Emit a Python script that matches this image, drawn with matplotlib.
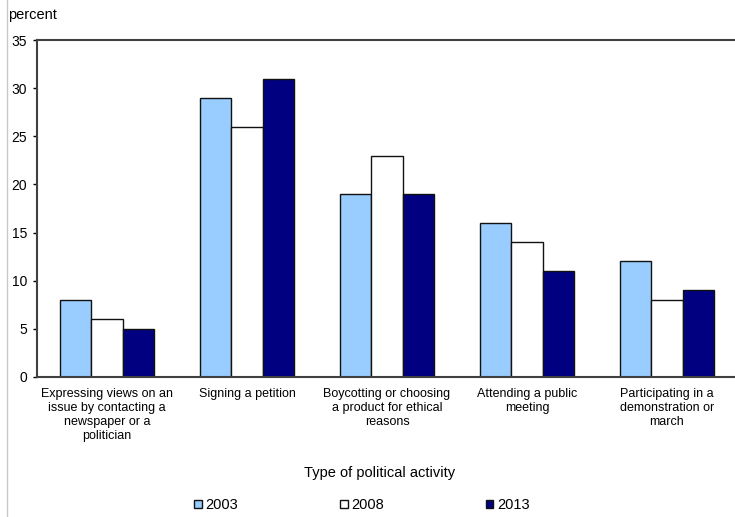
import numpy as np
import matplotlib
matplotlib.use('Agg')
import matplotlib.pyplot as plt
from matplotlib.lines import Line2D

plt.rcParams['font.family'] = ['Liberation Sans', 'DejaVu Sans']

# dados
categorias = ['Expressing views on an\nissue by contacting a\nnewspaper or a\npolitician',
              'Signing a petition',
              'Boycotting or choosing\na product for ethical\nreasons',
              'Attending a public\nmeeting',
              'Participating in a\ndemonstration or\nmarch']
anos = ['2003', '2008', '2013']
v2003 = [8, 29, 19, 16, 12]
v2008 = [6, 26, 23, 14, 8]
v2013 = [5, 31, 19, 11, 9]
cores = ['#99ccff', '#ffffff', '#000080']

fig = plt.figure(figsize=(7.35, 5.17), dpi=100)
ax = fig.add_axes([37/735, 140/517, 700/735, 337/517])

x = np.arange(len(categorias))
w = 0.222
for i, (vals, cor, ano) in enumerate(zip([v2003, v2008, v2013], cores, anos)):
    ax.bar(x + (i - 1)*w, vals, width=w, color=cor, edgecolor='#111111',
           linewidth=1, label=ano, zorder=2)

ax.set_xlim(-0.5, 4.5)
ax.set_ylim(0, 35)
ax.set_yticks(range(0, 36, 5))
ax.set_xticks(x)
ax.set_xticklabels(categorias, fontsize=9, linespacing=1.2)
ax.tick_params(axis='x', length=0, pad=8)
ax.tick_params(axis='y', length=3, width=1, pad=4, labelsize=10, colors='#000000')
for s in ['top', 'bottom', 'left']:
    ax.spines[s].set_color('#404040')
    ax.spines[s].set_linewidth(1.5)
ax.spines['right'].set_visible(False)

fig.text(8/735, 1 - 15/517, 'percent', fontsize=10.5, va='center', ha='left')
fig.text(380/735, 1 - 473/517, 'Type of political activity', fontsize=10.5,
         ha='center', va='center')

fig.legend(loc='center', bbox_to_anchor=(362/735, 1 - 505/517), ncol=3,
           frameon=False, fontsize=10.5, handlelength=0.5, handleheight=0.5,
           handletextpad=0.25, columnspacing=7.0)

# borda cinza à esquerda
fig.add_artist(Line2D([7.5/735, 7.5/735], [0, 1], color='#c8c8c8', linewidth=1))

plt.savefig('out.png', dpi=100)
